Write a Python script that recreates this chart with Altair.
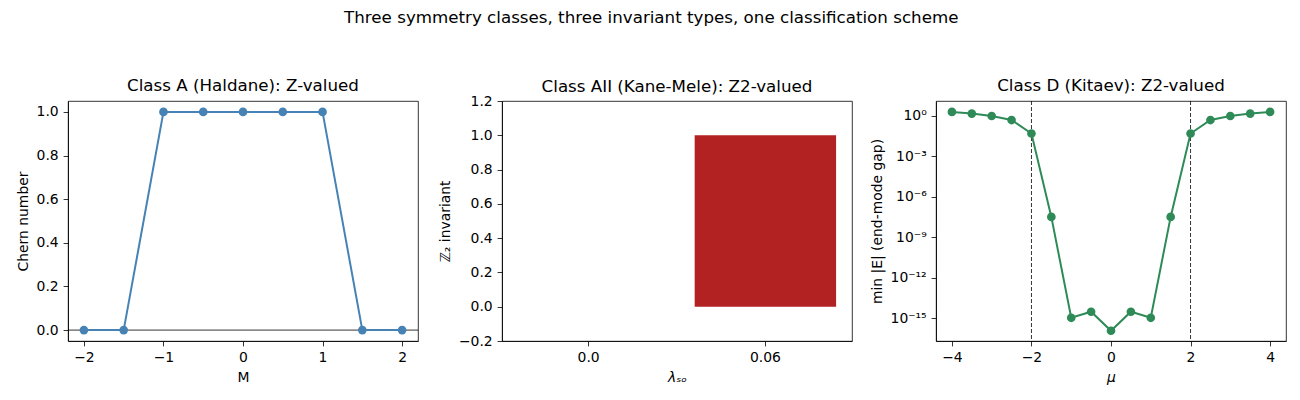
import altair as alt
import pandas as pd

# ---- data ----
M_vals = [-2.0, -1.5, -1.0, -0.5, 0.0, 0.5, 1.0, 1.5, 2.0]
chern = [0, 0, 1, 1, 1, 1, 1, 0, 0]

lam_labels = ["0.0", "0.06"]
z2_vals = [0, 1]

mu_vals = [-4.0, -3.5, -3.0, -2.5, -2.0, -1.5, -1.0, -0.5, 0.0, 0.5, 1.0, 1.5, 2.0, 2.5, 3.0, 3.5, 4.0]
gap_vals = [2.0, 1.5, 1.0, 0.5, 0.05, 3.3e-8, 1.1e-15, 3.1e-15, 1.2e-16,
            3.1e-15, 1.1e-15, 3.3e-8, 0.05, 0.5, 1.0, 1.5, 2.0]
transitions = [-2.0, 2.0]

FONT = "DejaVu Sans"
W, H = 350, 240
PT = 75

df1 = pd.DataFrame({"M": M_vals, "C": chern})
df2 = pd.DataFrame({"lam": lam_labels, "z2": z2_vals})
df3 = pd.DataFrame({"mu": mu_vals, "gap": gap_vals})
dfv = pd.DataFrame({"x": transitions})


def ptitle(t, off=6):
    return alt.TitleParams(t, fontSize=16.7, font=FONT, fontWeight="normal", color="black",
                           offset=off, frame="group")


# ---- panel 1 ----
line1 = alt.Chart(df1).mark_line(
    color="#4682b4", strokeWidth=2,
    point=alt.OverlayMarkDef(color="#4682b4", size=PT, filled=True, opacity=1),
).encode(
    x=alt.X("M:Q", title="M", scale=alt.Scale(domain=[-2.2, 2.2], nice=False),
            axis=alt.Axis(values=[-2, -1, 0, 1, 2], format="d")),
    y=alt.Y("C:Q", title="Chern number", scale=alt.Scale(domain=[-0.05, 1.05], nice=False, zero=False),
            axis=alt.Axis(values=[0, 0.2, 0.4, 0.6, 0.8, 1.0], format=".1f")),
)
zero1 = alt.Chart(pd.DataFrame({"y": [0]})).mark_rule(color="black", strokeWidth=0.8).encode(y="y:Q")
p1 = alt.layer(zero1, line1).properties(width=W, height=H, title=ptitle("Class A (Haldane): Z-valued"))

# ---- panel 2 ----
p2 = alt.Chart(df2).mark_bar(color="#b22222").encode(
    x=alt.X("lam:N", title="λₛₒ", sort=lam_labels,
            scale=alt.Scale(paddingInner=0.2, paddingOuter=0.09),
            axis=alt.Axis(labelAngle=0, titleFontStyle="italic")),
    y=alt.Y("z2:Q", title="ℤ₂ invariant", scale=alt.Scale(domain=[-0.2, 1.2], nice=False),
            axis=alt.Axis(values=[-0.2, 0, 0.2, 0.4, 0.6, 0.8, 1.0, 1.2], format=".1f")),
).properties(width=W, height=H, title=ptitle("Class AII (Kane-Mele): Z2-valued", off=-2))

# ---- panel 3 ----
ylabel_expr = ("datum.value > 0.5 ? '10⁰' : datum.value > 5e-4 ? '10⁻³' : datum.value > 5e-7 ? '10⁻⁶' : "
               "datum.value > 5e-10 ? '10⁻⁹' : datum.value > 5e-13 ? '10⁻¹²' : '10⁻¹⁵'")
line3 = alt.Chart(df3).mark_line(
    color="#2e8b57", strokeWidth=2,
    point=alt.OverlayMarkDef(color="#2e8b57", size=PT, filled=True, opacity=1),
).encode(
    x=alt.X("mu:Q", title="μ", scale=alt.Scale(domain=[-4.4, 4.4], nice=False),
            axis=alt.Axis(values=[-4, -2, 0, 2, 4], format="d", titleFontStyle="italic")),
    y=alt.Y("gap:Q", title="min |E| (end-mode gap)",
            scale=alt.Scale(type="log", domain=[2.1e-17, 12.9], nice=False),
            axis=alt.Axis(values=[1, 1e-3, 1e-6, 1e-9, 1e-12, 1e-15], labelExpr=ylabel_expr)),
)
vlines = alt.Chart(dfv).mark_rule(color="black", strokeWidth=0.8, strokeDash=[4, 2]).encode(x="x:Q")
p3 = alt.layer(vlines, line3).properties(width=W, height=H, title=ptitle("Class D (Kitaev): Z2-valued"))

chart = alt.hconcat(p1, p2, p3, spacing=84, bounds="flush").properties(
    title=alt.TitleParams("Three symmetry classes, three invariant types, one classification scheme",
                          fontSize=16.7, font=FONT, fontWeight="normal", color="black",
                          anchor="middle", offset=51),
    padding={"left": 8, "top": 1, "right": 5, "bottom": 5},
    background="white",
).configure_view(stroke="black", strokeWidth=0.8).configure_axis(
    grid=False, domainColor="black", domainWidth=0.8, tickColor="black", tickWidth=0.8,
    tickSize=4.9, labelPadding=4.9, titlePadding=5.6,
    labelFont=FONT, labelFontSize=13.9, labelColor="black",
    titleFont=FONT, titleFontSize=13.9, titleFontWeight="normal", titleColor="black",
)

chart.save("out.html", embed_options={"renderer": "svg", "actions": False})
